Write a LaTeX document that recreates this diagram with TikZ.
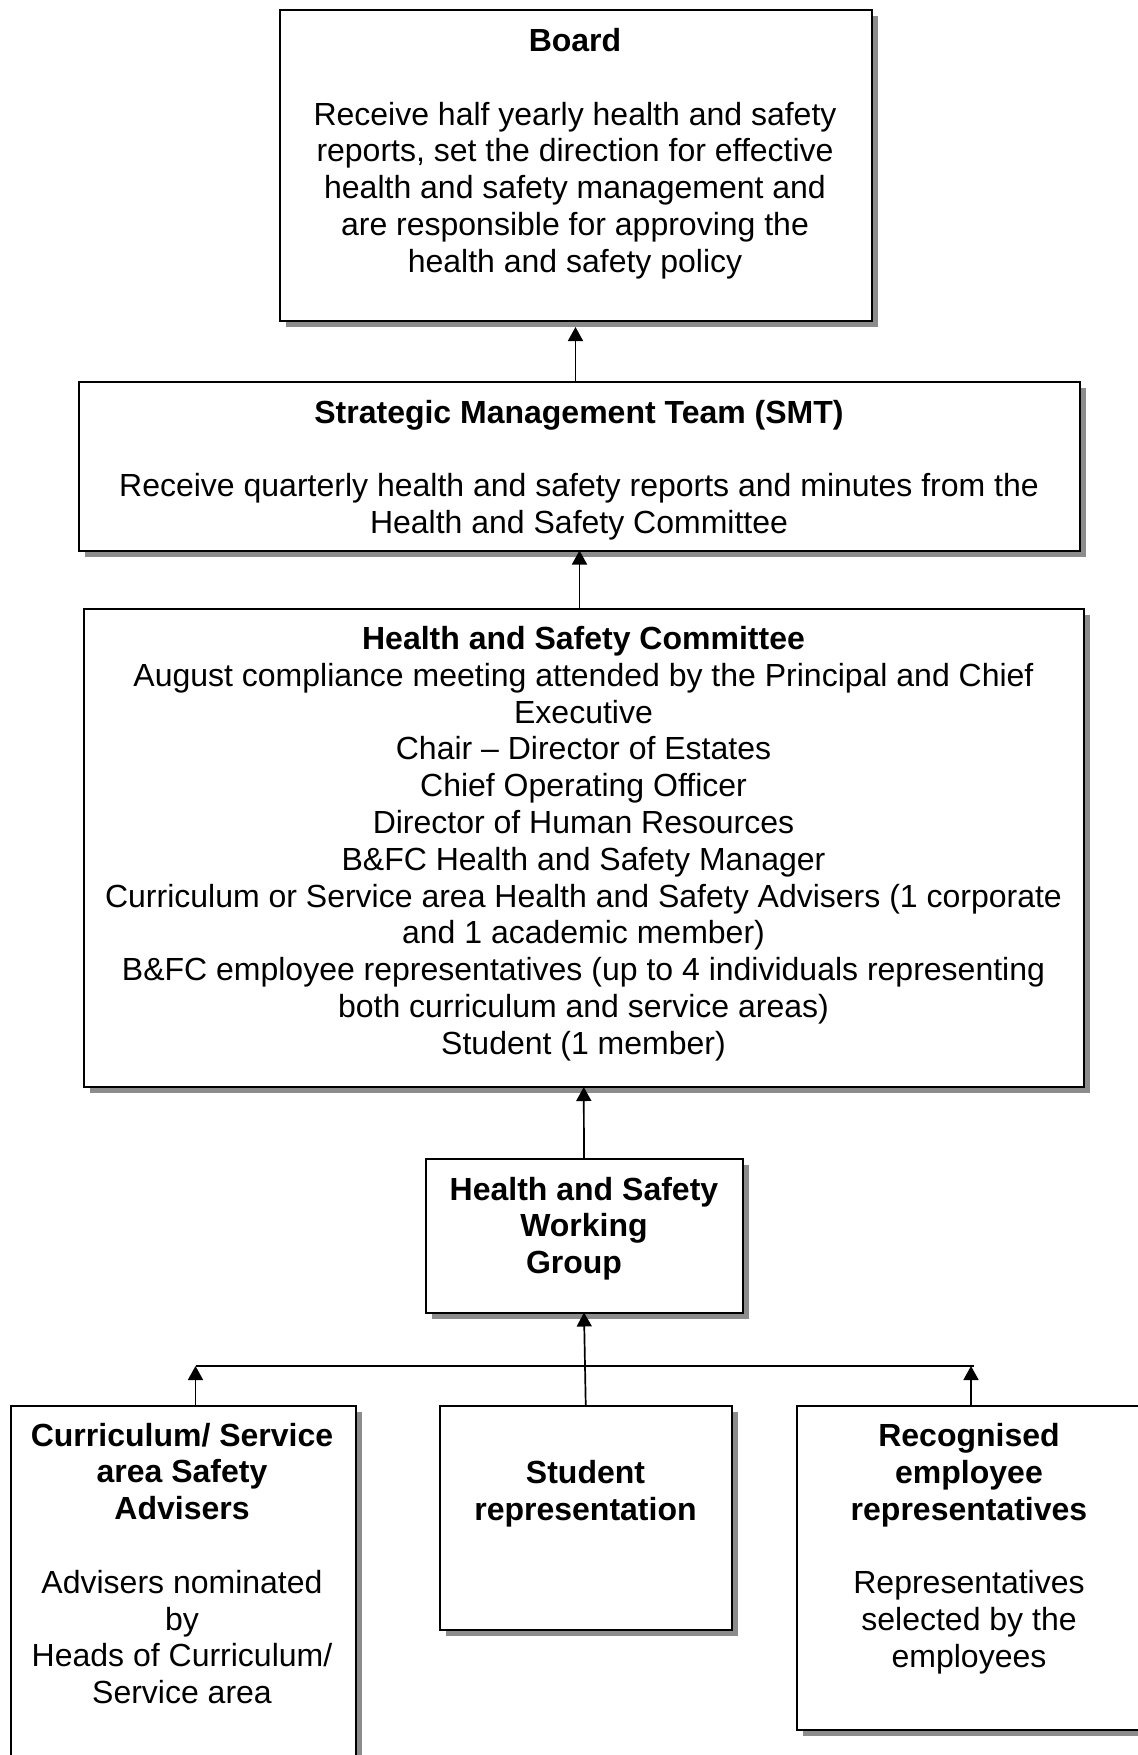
\documentclass[tikz,border=0pt]{standalone}
\usepackage{fontspec}
\setmainfont{Liberation Sans}
\usetikzlibrary{arrows.meta,shadows}
\definecolor{shadowgray}{RGB}{140,140,140}
\tikzset{
  box/.style={draw, line width=1pt, fill=white, inner sep=0pt, outer sep=0pt,
    anchor=north west,
    general shadow={fill=shadowgray, shadow xshift=3pt, shadow yshift=-3pt}},
  txt/.style={align=center, inner sep=0pt, outer sep=0pt,
    font=\fontsize{16}{18.4}\selectfont},
  arr/.style={line width=0.85pt, -{Triangle[width=7.5pt,length=7pt]}},
  link/.style={line width=0.85pt}
}
\begin{document}
\begin{tikzpicture}[x=0.5pt, y=-0.5pt]
\useasboundingbox (0,0) rectangle (1138,1755);
\clip (0,0) rectangle (1138,1755);

% boxes
\node[box, minimum width=296pt, minimum height=155.25pt] (board) at (279.5,10.5) {};
\node[box, minimum width=500.5pt, minimum height=84.5pt] (smt) at (79,381.5) {};
\node[box, minimum width=500.25pt, minimum height=239pt] (hsc) at (83.5,609) {};
\node[box, minimum width=158.5pt, minimum height=76.75pt] (wg) at (425.5,1159) {};
\node[box, minimum width=172.75pt, minimum height=182pt] (left) at (10.5,1406) {};
\node[box, minimum width=145.75pt, minimum height=112pt] (mid) at (440,1406) {};
\node[box, minimum width=172.5pt, minimum height=161.75pt] (right) at (797,1406) {};

% texts
\node[txt] (boardtxt) at (575,154.5) {\strut\bfseries Board\\\strut\\
\strut Receive half yearly health and safety\\
\strut reports, set the direction for effective\\
\strut health and safety management and\\
\strut are responsible for approving the\\
\strut health and safety policy};

\node[txt] (smttxt) at (579,471) {\strut\bfseries Strategic Management Team (SMT)\\\strut\\
\strut Receive quarterly health and safety reports and minutes from the\\
\strut Health and Safety Committee};

\node[txt] (hsctxt) at (583.5,844.5) {\strut\bfseries Health and Safety Committee\\
\strut August compliance meeting attended by the Principal and Chief\\
\strut Executive\\
\strut Chair -- Director of Estates\\
\strut Chief Operating Officer\\
\strut Director of Human Resources\\
\strut B\&FC Health and Safety Manager\\
\strut Curriculum or Service area Health and Safety Advisers (1 corporate\\
\strut and 1 academic member)\\
\strut B\&FC employee representatives (up to 4 individuals representing\\
\strut both curriculum and service areas)\\
\strut Student (1 member)};

\node[txt, font=\fontsize{16}{18.4}\selectfont\bfseries] (wgtxt) at (584,1229.5) {\strut Health and Safety\\
\strut Working\\
\strut Group\hspace*{10pt}};

\node[txt] (lefttxt) at (182,1567.5) {\strut\bfseries Curriculum/ Service\\
\strut\bfseries area Safety\\
\strut\bfseries Advisers\\\strut\\
\strut Advisers nominated\\
\strut by\\
\strut Heads of Curriculum/\\
\strut Service area};

\node[txt, font=\fontsize{16}{18.4}\selectfont\bfseries] (midtxt) at (585.5,1494.5) {\strut Student\\
\strut representation};

\node[txt] (righttxt) at (969,1549.5) {\strut\bfseries Recognised\\
\strut\bfseries employee\\
\strut\bfseries representatives\\\strut\\
\strut Representatives\\
\strut selected by the\\
\strut employees};

% connectors
\draw[arr, shorten >=3pt] (board.south |- smt.north) -- (board.south);
\draw[arr] (smt.south |- hsc.north) -- (smt.south);
\draw[arr] (wg.north) -- (hsc.south);
\draw[arr] (mid.north) -- (wg.south);
\coordinate (jl) at (195.5,1366);
\coordinate (jr) at (971,1366);
\draw[link] (jl) -- ([xshift=1.5pt]jr);
\draw[arr] (left.north -| jl) -- (jl);
\draw[arr] (right.north -| jr) -- (jr);
\end{tikzpicture}
\end{document}
